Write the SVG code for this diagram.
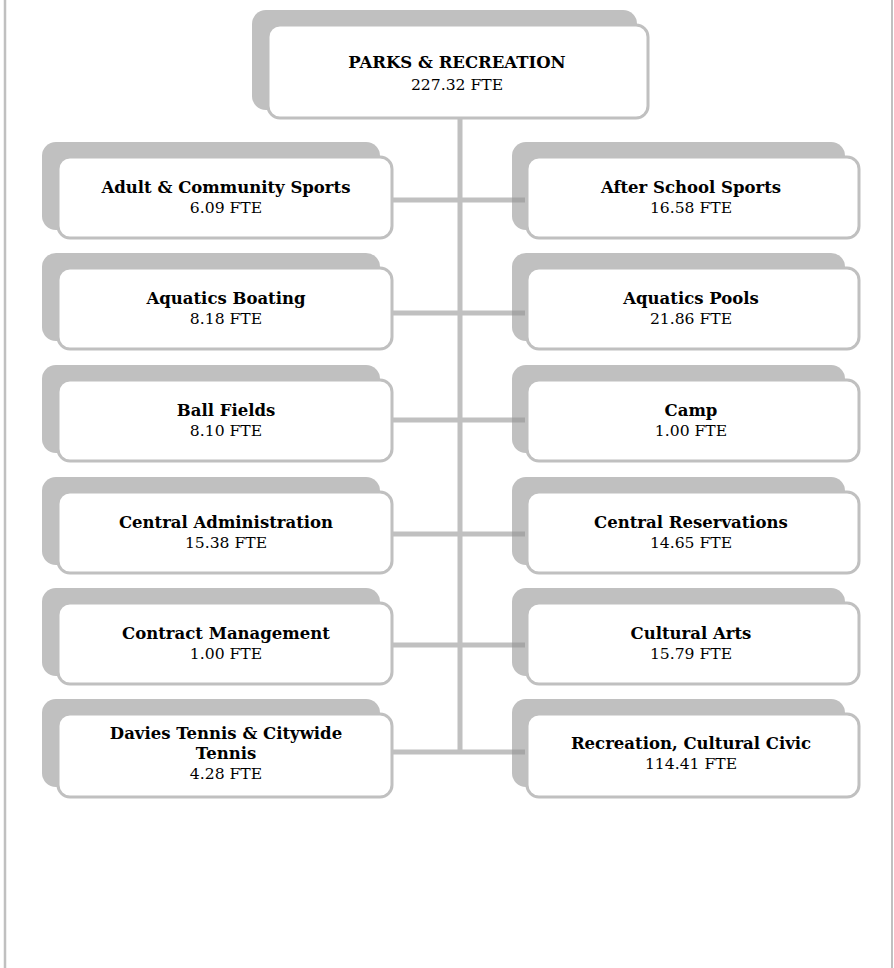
<svg xmlns="http://www.w3.org/2000/svg" width="894" height="968" viewBox="0 0 894 968">
<style>
.sh{fill:#c0c0c0}
.bx{fill:#fff;stroke:#c0c0c0;stroke-width:3}
.t{font-family:"DejaVu Serif","Liberation Serif",serif;font-weight:bold;font-size:16.5px;fill:#000;text-anchor:middle}
.f{font-family:"DejaVu Serif","Liberation Serif",serif;font-size:15.6px;fill:#000;text-anchor:middle}
.ln{stroke:#c0c0c0;stroke-width:5;fill:none}
.dk{stroke:#a6a6a6;stroke-width:5;fill:none}
.pg{stroke:#c0c0c0;fill:none}
</style>
<rect width="894" height="968" fill="#fff"/>
<line class="pg" x1="5" y1="0" x2="5" y2="968" stroke-width="2.5"/>
<line class="pg" x1="892" y1="0" x2="892" y2="968" stroke-width="2"/>
<g id="parks">
<rect class="sh" x="252" y="10" width="385" height="100" rx="14"/>
<rect class="bx" x="268" y="25" width="380" height="93" rx="12"/>
<text class="t" x="457" y="68">PARKS &amp; RECREATION</text>
<text class="f" x="457" y="90">227.32 FTE</text>
</g>
<g id="adult">
<rect class="sh" x="42" y="142" width="338" height="88" rx="14"/>
<rect class="bx" x="58" y="157" width="334" height="81" rx="12"/>
<text class="t" x="226" y="193">Adult &amp; Community Sports</text>
<text class="f" x="226" y="213">6.09 FTE</text>
</g>
<g id="afterschool">
<rect class="sh" x="512" y="142" width="333" height="88" rx="14"/>
<rect class="bx" x="527" y="157" width="332" height="81" rx="12"/>
<text class="t" x="691" y="193">After School Sports</text>
<text class="f" x="691" y="213">16.58 FTE</text>
</g>
<g id="aquaticsboating">
<rect class="sh" x="42" y="253" width="338" height="88" rx="14"/>
<rect class="bx" x="58" y="268" width="334" height="81" rx="12"/>
<text class="t" x="226" y="304">Aquatics Boating</text>
<text class="f" x="226" y="324">8.18 FTE</text>
</g>
<g id="aquaticspools">
<rect class="sh" x="512" y="253" width="333" height="88" rx="14"/>
<rect class="bx" x="527" y="268" width="332" height="81" rx="12"/>
<text class="t" x="691" y="304">Aquatics Pools</text>
<text class="f" x="691" y="324">21.86 FTE</text>
</g>
<g id="ballfields">
<rect class="sh" x="42" y="365" width="338" height="88" rx="14"/>
<rect class="bx" x="58" y="380" width="334" height="81" rx="12"/>
<text class="t" x="226" y="416">Ball Fields</text>
<text class="f" x="226" y="436">8.10 FTE</text>
</g>
<g id="camp">
<rect class="sh" x="512" y="365" width="333" height="88" rx="14"/>
<rect class="bx" x="527" y="380" width="332" height="81" rx="12"/>
<text class="t" x="691" y="416">Camp</text>
<text class="f" x="691" y="436">1.00 FTE</text>
</g>
<g id="centraladmin">
<rect class="sh" x="42" y="477" width="338" height="88" rx="14"/>
<rect class="bx" x="58" y="492" width="334" height="81" rx="12"/>
<text class="t" x="226" y="528">Central Administration</text>
<text class="f" x="226" y="548">15.38 FTE</text>
</g>
<g id="centralres">
<rect class="sh" x="512" y="477" width="333" height="88" rx="14"/>
<rect class="bx" x="527" y="492" width="332" height="81" rx="12"/>
<text class="t" x="691" y="528">Central Reservations</text>
<text class="f" x="691" y="548">14.65 FTE</text>
</g>
<g id="contract">
<rect class="sh" x="42" y="588" width="338" height="88" rx="14"/>
<rect class="bx" x="58" y="603" width="334" height="81" rx="12"/>
<text class="t" x="226" y="639">Contract Management</text>
<text class="f" x="226" y="659">1.00 FTE</text>
</g>
<g id="cultural">
<rect class="sh" x="512" y="588" width="333" height="88" rx="14"/>
<rect class="bx" x="527" y="603" width="332" height="81" rx="12"/>
<text class="t" x="691" y="639">Cultural Arts</text>
<text class="f" x="691" y="659">15.79 FTE</text>
</g>
<g id="davies">
<rect class="sh" x="42" y="699" width="338" height="88" rx="14"/>
<rect class="bx" x="58" y="714" width="334" height="83" rx="12"/>
<text class="t" x="226" y="739">Davies Tennis &amp; Citywide</text>
<text class="t" x="226" y="759">Tennis</text>
<text class="f" x="226" y="779">4.28 FTE</text>
</g>
<g id="recreation">
<rect class="sh" x="512" y="699" width="333" height="88" rx="14"/>
<rect class="bx" x="527" y="714" width="332" height="83" rx="12"/>
<text class="t" x="691" y="749">Recreation, Cultural Civic</text>
<text class="f" x="691" y="769">114.41 FTE</text>
</g>
<g id="connectors">
<line class="ln" x1="460" y1="119" x2="460" y2="754"/>
<line class="ln" x1="393" y1="200" x2="512" y2="200"/>
<line class="ln" x1="393" y1="313" x2="512" y2="313"/>
<line class="ln" x1="393" y1="420" x2="512" y2="420"/>
<line class="ln" x1="393" y1="534" x2="512" y2="534"/>
<line class="ln" x1="393" y1="645" x2="512" y2="645"/>
<line class="ln" x1="393" y1="752" x2="512" y2="752"/>
<line class="dk" x1="512" y1="200" x2="525" y2="200"/>
<line class="dk" x1="512" y1="313" x2="525" y2="313"/>
<line class="dk" x1="512" y1="420" x2="525" y2="420"/>
<line class="dk" x1="512" y1="534" x2="525" y2="534"/>
<line class="dk" x1="512" y1="645" x2="525" y2="645"/>
<line class="dk" x1="512" y1="752" x2="525" y2="752"/>
</g>
</svg>
